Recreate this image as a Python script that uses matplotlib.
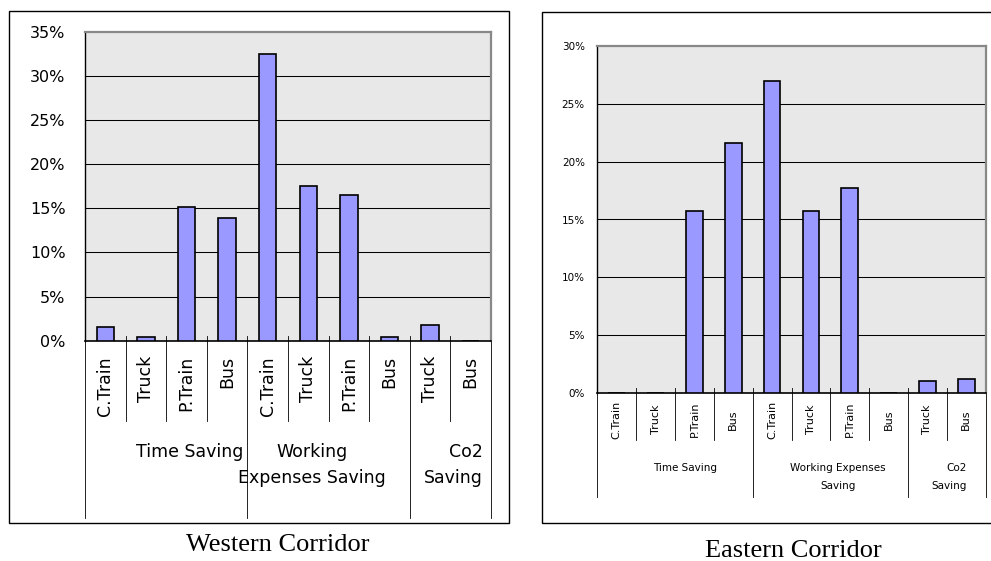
import matplotlib.pyplot as plt
import matplotlib.transforms as mtransforms
from matplotlib.patches import Rectangle

# modos de transporte (eje x) y grupos de ahorro
modos = ["C.Train", "Truck", "P.Train", "Bus",
         "C.Train", "Truck", "P.Train", "Bus",
         "Truck", "Bus"]
grupos = ["Time Saving", "Working\nExpenses Saving", "Co2\nSaving"]
grupos_este = ["Time Saving", "Working Expenses\nSaving", "Co2\nSaving"]
limites_grupo = [-0.5, 3.5, 7.5, 9.5]

# porcentaje de ahorro en cada corredor
oeste = [1.55, 0.38, 15.1, 13.9, 32.5, 17.55, 16.5, 0.38, 1.78, 0.0]
este = [0.0, 0.0, 15.73, 21.57, 26.95, 15.73, 17.74, 0.0, 1.09, 1.23]

W, H = 991, 561
fig = plt.figure(figsize=(W / 100, H / 100), dpi=100)


def caja(x0, y0, x1, y1):
    # convierte coordenadas en pixeles (origen arriba a la izquierda) a fraccion
    return [x0 / W, 1 - y1 / H, (x1 - x0) / W, (y1 - y0) / H]


def panel(rect, valores, ymax, yt_size, xt_size, g_size, nombres_grupo,
          pos_grupo, y_grupo, corto, largo, xt_y, xt_va, interlineado, pad_y):
    ax = fig.add_axes(rect)
    x = list(range(len(valores)))
    ax.bar(x, valores, width=0.43, color="#9999ff", edgecolor="black",
           linewidth=1.2, zorder=3)
    ax.set_xlim(-0.5, len(valores) - 0.5)
    ax.set_ylim(0, ymax)
    ax.set_facecolor("#e8e8e8")
    ticks = list(range(0, ymax + 1, 5))
    ax.set_yticks(ticks)
    ax.set_yticklabels([f"{t}%" for t in ticks], fontsize=yt_size)
    ax.tick_params(axis="y", length=0, pad=pad_y)
    ax.set_xticks([])
    for t in ticks[1:-1]:
        ax.axhline(t, color="black", linewidth=0.75, zorder=1)
    for lado in ["top", "right"]:
        ax.spines[lado].set_color("#888888")
        ax.spines[lado].set_linewidth(1.6)
    ax.spines["left"].set_linewidth(1.0)
    ax.spines["bottom"].set_linewidth(1.2)

    trans = mtransforms.blended_transform_factory(ax.transData, ax.transAxes)
    # separadores entre modos y entre grupos
    for b in range(len(valores) + 1):
        xb = b - 0.5
        fin = largo if xb in limites_grupo else corto
        ax.plot([xb, xb], [0.015, fin], color="black", linewidth=0.6,
                transform=trans, clip_on=False)
    for i, m in enumerate(modos):
        ax.text(i, xt_y, m, rotation=90, ha="center", va=xt_va,
                fontsize=xt_size, transform=trans)
    for nombre, (px, ha) in zip(nombres_grupo, pos_grupo):
        ax.text(px, y_grupo, nombre, ha=ha, va="top", multialignment=ha,
                fontsize=g_size, linespacing=interlineado, transform=trans)
    return ax


# marcos exteriores
fig.add_artist(Rectangle((9 / W, 1 - 523 / H), 500 / W, 512 / H,
                         transform=fig.transFigure, fill=False,
                         edgecolor="black", linewidth=1.0))
fig.add_artist(Rectangle((542 / W, 1 - 523 / H), 460 / W, 511 / H,
                         transform=fig.transFigure, fill=False,
                         edgecolor="black", linewidth=1.0))

# corredor oeste
panel(caja(85, 31.7, 491, 340.7), oeste, 35, 11.5, 12.5, 12.5, grupos,
      [(3.4, "right"), (5.1, "center"), (9.3, "right")],
      -0.33, -0.259, -0.574, -0.05, "top", 1.6, 14)

# corredor este
panel(caja(597.3, 45.7, 985.7, 393.3), este, 30, 7.5, 8, 7.5, grupos_este,
      [(1.75, "center"), (5.7, "center"), (9.0, "right")],
      -0.2, -0.134, -0.298, -0.076, "center", 2.0, 9)

fig.text(278 / W, 1 - 545 / H, "Western Corridor", ha="center", va="center",
         fontsize=19, family="Liberation Serif")
fig.text(793 / W, 1 - 551 / H, "Eastern Corridor", ha="center", va="center",
         fontsize=19, family="Liberation Serif")

fig.savefig("out.png", dpi=100)
